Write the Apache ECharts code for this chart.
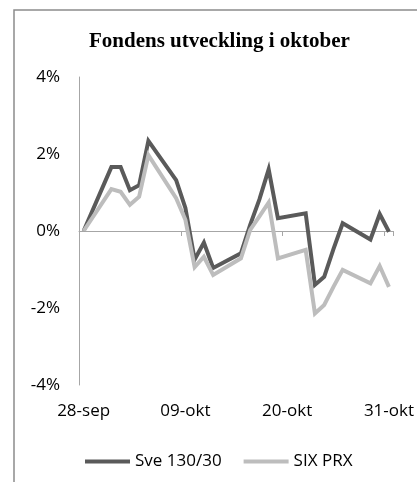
<!DOCTYPE html>
<html>
<head>
<meta charset="utf-8">
<script src="https://cdn.jsdelivr.net/npm/echarts@6/dist/echarts.min.js"></script>
<style>
  html, body { margin: 0; padding: 0; background: #fff; }
  #chart { width: 417px; height: 482px; }
</style>
</head>
<body>
<div id="chart"></div>
<script>
//dagar 28-sep .. 31-okt (helger = null)
var days = ['28-sep','29-sep','30-sep','01-okt','02-okt','03-okt','04-okt','05-okt','06-okt','07-okt',
  '08-okt','09-okt','10-okt','11-okt','12-okt','13-okt','14-okt','15-okt','16-okt','17-okt',
  '18-okt','19-okt','20-okt','21-okt','22-okt','23-okt','24-okt','25-okt','26-okt','27-okt',
  '28-okt','29-okt','30-okt','31-okt'];

//Sve 130/30 (%)
var fund = [0, null, null, 1.66, 1.66, 1.06, 1.19, 2.34, null, null,
  1.32, 0.60, -0.74, -0.30, -0.96, null, null, -0.58, 0.16, 0.82,
  1.60, 0.33, null, null, 0.46, -1.40, -1.19, -0.47, 0.20, null,
  null, -0.22, 0.44, -0.02];

//SIX PRX (%)
var index = [0, null, null, 1.09, 1.02, 0.68, 0.89, 1.97, null, null,
  0.85, 0.29, -0.94, -0.67, -1.14, null, null, -0.71, 0.03, 0.38,
  0.74, -0.71, null, null, -0.49, -2.14, -1.92, -1.45, -1.01, null,
  null, -1.36, -0.91, -1.45];

var yTicks = {min: -4, max: 4, step: 2};

var labelFont = 'Open Sans';

var option = {
  animation: false,
  title: {
    text: 'Fondens utveckling i oktober',
    left: 84,
    top: 26,
    textStyle: {
      fontFamily: 'Liberation Serif',
      fontWeight: 'bold',
      fontSize: 21,
      color: '#000'
    }
  },
  legend: {
    left: 80,
    top: 448,
    icon: 'rect',
    itemWidth: 45,
    itemHeight: 4,
    itemGap: 22,
    textStyle: { fontFamily: labelFont, fontSize: 17, color: '#000' },
    data: ['Sve 130/30', 'SIX PRX']
  },
  grid: { left: 79, right: 23, top: 77, bottom: 97 },
  xAxis: [
    {
      type: 'category',
      data: days,
      boundaryGap: true,
      position: 'bottom',
      axisLine: { show: false, onZero: false },
      axisTick: { show: false },
      axisLabel: {
        interval: 10,
        margin: 18,
        fontFamily: labelFont,
        fontSize: 17,
        color: '#000'
      }
    },
    {
      type: 'category',
      data: days,
      boundaryGap: true,
      position: 'bottom',
      axisLine: { show: true, onZero: true, lineStyle: { color: '#a6a6a6', width: 1 } },
      axisTick: { show: true, interval: 10, length: 5, inside: false, lineStyle: { color: '#a6a6a6' } },
      axisLabel: { show: false }
    }
  ],
  yAxis: {
    type: 'value',
    min: yTicks.min,
    max: yTicks.max,
    interval: yTicks.step,
    axisLine: { show: true, lineStyle: { color: '#a6a6a6', width: 1 } },
    axisTick: { show: false },
    splitLine: { show: false },
    axisLabel: {
      margin: 19,
      fontFamily: labelFont,
      fontSize: 17,
      color: '#000',
      formatter: '{value}%'
    }
  },
  series: [
    {
      name: 'Sve 130/30',
      type: 'line',
      data: fund,
      connectNulls: true,
      symbol: 'none',
      itemStyle: { color: '#5a5a5a' },
      lineStyle: { color: '#5a5a5a', width: 4, join: 'miter' }
    },
    {
      name: 'SIX PRX',
      type: 'line',
      data: index,
      connectNulls: true,
      symbol: 'none',
      itemStyle: { color: '#bdbdbd' },
      lineStyle: { color: '#bdbdbd', width: 4, join: 'miter' }
    }
  ],
  graphic: [
    {
      type: 'rect',
      shape: { x: 14, y: 10, width: 460, height: 520 },
      style: { fill: 'none', stroke: '#8c8c8c', lineWidth: 1.5 },
      silent: true
    }
  ]
};

var myChart = echarts.init(document.getElementById('chart'));
myChart.setOption(option);
</script>
</body>
</html>
